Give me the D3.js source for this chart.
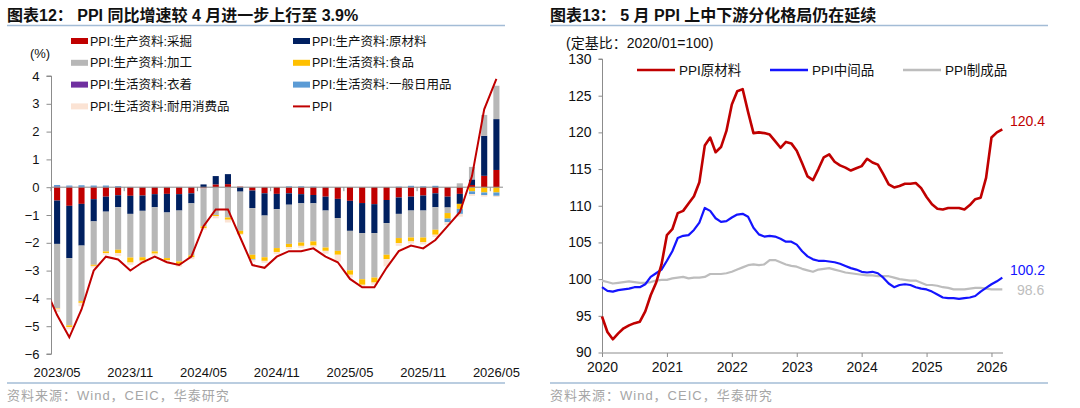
<!DOCTYPE html>
<html><head><meta charset="utf-8">
<script src="https://cdn.jsdelivr.net/npm/d3@7/dist/d3.min.js"></script>
<style>
html,body{margin:0;padding:0;background:#fff;}
svg{display:block;font-family:"Liberation Sans","Noto Sans CJK SC",sans-serif;}
</style></head><body>
<svg id="c" width="1080" height="408"></svg>
<script>
// ---------- LEFT CHART DATA ----------
const months = ["2023/05","2023/06","2023/07","2023/08","2023/09","2023/10","2023/11","2023/12",
"2024/01","2024/02","2024/03","2024/04","2024/05","2024/06","2024/07","2024/08","2024/09","2024/10","2024/11","2024/12",
"2025/01","2025/02","2025/03","2025/04","2025/05","2025/06","2025/07","2025/08","2025/09","2025/10","2025/11","2025/12",
"2026/01","2026/02","2026/03","2026/04","2026/05"];
const leftTickLabels = ["2023/05","2023/11","2024/05","2024/11","2025/05","2025/11","2026/05"];
const leftYTicks = [4,3,2,1,0,-1,-2,-3,-4,-5,-6];
const mining = [-0.48,-0.67,-0.60,-0.43,-0.34,-0.29,-0.31,-0.30,-0.25,-0.24,-0.25,-0.22,-0.04,0.10,0.11,0.02,-0.12,-0.22,-0.24,-0.22,-0.25,-0.28,-0.34,-0.42,-0.49,-0.57,-0.61,-0.46,-0.37,-0.34,-0.30,-0.22,-0.34,-0.24,0.08,0.41,0.62];
const rawMat = [-1.56,-1.88,-1.50,-0.80,-0.54,-0.43,-0.65,-0.55,-0.47,-0.67,-0.59,-0.36,0.10,0.30,0.36,-0.16,-0.63,-0.80,-0.55,-0.41,-0.33,-0.30,-0.50,-0.69,-1.08,-1.08,-1.04,-0.83,-0.59,-0.50,-0.54,-0.50,-0.39,-0.36,0.20,1.44,1.83];
const processing = [-2.31,-2.42,-2.00,-1.56,-1.43,-1.53,-1.57,-1.67,-1.59,-1.64,-1.83,-1.87,-1.37,-1.00,-1.09,-1.41,-1.68,-1.50,-1.40,-1.41,-1.41,-1.37,-1.33,-1.18,-1.42,-1.66,-1.60,-1.14,-0.87,-0.97,-0.97,-0.81,-0.20,0.14,0.45,0.75,1.20];
const food = [-0.02,-0.06,-0.06,-0.04,-0.06,-0.12,-0.18,-0.12,-0.08,-0.08,-0.09,-0.07,-0.06,-0.04,-0.08,-0.11,-0.16,-0.13,-0.14,-0.12,-0.12,-0.15,-0.12,-0.14,-0.16,-0.20,-0.18,-0.16,-0.18,-0.14,-0.17,-0.18,-0.20,-0.18,-0.15,-0.19,-0.19];
const clothing = [0.03,0.02,0.01,0.01,0.01,0.01,0,0,0,0,0,0,0,0,0,0,0,0,0,0,0,0,0,0,0,0,0,0,0,0,0,0,0,0,0,0,0];
const dailyUse = [0.05,0.04,0.06,0.05,0.05,0.03,0.01,0.01,0.01,0.01,0.01,0.01,0,0,0,0,-0.02,0,0,0.03,0.03,0.02,0.01,0,0,0,0,0,0.02,0.05,0.03,0.05,-0.13,-0.18,-0.10,-0.10,-0.12];
const durables = [-0.12,-0.08,-0.12,-0.06,-0.06,-0.10,-0.08,-0.10,-0.07,-0.07,-0.10,-0.07,-0.06,-0.08,-0.10,-0.04,-0.07,-0.07,-0.08,-0.07,-0.07,-0.07,-0.10,-0.24,-0.10,-0.08,-0.08,-0.26,-0.10,-0.08,-0.08,-0.08,-0.10,-0.10,-0.06,-0.05,-0.04];
const ppiMonths = ["2023/04"].concat(months);
const ppi = [-3.6,-4.6,-5.4,-4.4,-3.0,-2.5,-2.6,-3.0,-2.7,-2.5,-2.7,-2.8,-2.5,-1.4,-0.8,-0.8,-1.8,-2.8,-2.9,-2.5,-2.3,-2.3,-2.2,-2.5,-2.7,-3.3,-3.6,-3.6,-2.9,-2.3,-2.1,-2.2,-1.9,-1.4,-0.9,0.4,2.8,3.9];
const barNames = ["PPI:生产资料:采掘","PPI:生产资料:原材料","PPI:生产资料:加工","PPI:生活资料:食品","PPI:生活资料:衣着","PPI:生活资料:一般日用品","PPI:生活资料:耐用消费品"];
const barColors = ["#c00000","#002060","#b7b7b7","#ffc000","#7030a0","#5b9bd5","#fbe3d4"];

// ---------- RIGHT CHART DATA (2020/03 .. 2026/05) ----------
const rightYears = ["2020","2021","2022","2023","2024","2025","2026"];
const rightYTicks = [90,95,100,105,110,115,120,125,130];
const rawIdx = [94.9,92.8,91.8,92.6,93.3,93.7,94.0,94.2,95.6,97.8,99.5,102.0,106.0,106.8,109.0,109.3,110.3,111.3,113.2,118.2,119.3,117.3,118.0,120.2,123.8,125.6,125.9,122.8,119.9,120.0,119.9,119.7,118.8,117.9,118.7,118.5,117.5,115.8,114.0,113.5,115.0,116.6,117.0,116.0,115.5,115.2,114.8,115.1,115.4,116.4,115.9,115.6,114.3,112.9,112.5,112.7,113.0,113.0,113.1,112.4,111.2,110.2,109.6,109.5,109.7,109.7,109.7,109.5,110.1,110.9,111.1,113.8,119.3,120.0,120.4];
const midIdx = [98.9,98.4,98.3,98.5,98.6,98.7,98.9,98.9,99.3,100.3,100.8,101.3,102.5,103.8,105.6,105.9,106.0,106.7,107.7,109.7,109.3,108.3,107.8,107.9,108.4,108.8,108.9,108.5,107.0,106.1,105.8,105.9,105.8,105.5,105.1,105.1,104.7,103.8,103.1,102.7,102.5,102.5,102.4,102.3,102.1,101.8,101.5,101.3,101.0,100.9,101.0,100.8,100.2,99.4,98.9,99.2,99.3,99.2,98.9,98.7,98.6,98.3,97.9,97.5,97.4,97.4,97.3,97.4,97.5,97.7,98.3,98.8,99.3,99.7,100.2];
const finIdx = [99.8,99.6,99.4,99.5,99.6,99.7,99.6,99.5,99.5,99.6,99.8,99.9,99.9,100.1,100.2,100.3,100.1,100.2,100.2,100.3,100.7,100.7,100.7,100.8,101.0,101.3,101.6,101.9,102.0,101.9,102.0,102.6,102.6,102.3,102.0,101.8,101.7,101.4,101.2,101.0,101.3,101.4,101.5,101.3,101.1,100.9,100.8,100.7,100.6,100.5,100.5,100.4,100.4,100.4,100.2,100.0,99.9,99.8,99.8,99.5,99.2,99.2,99.1,98.9,98.8,98.6,98.6,98.6,98.7,98.8,98.8,98.7,98.6,98.6,98.6];
const lineNames = ["PPI原材料","PPI中间品","PPI制成品"];
const lineColors = ["#c00000","#1414ff","#bdbdbd"];

const svg = d3.select("#c");
const axisColor = "#8c8c8c";
const sepColor = "#a3bcd6";

// ---------- shared frame ----------
function frame(x0, x1, title){
  svg.append("text").attr("x", x0).attr("y", 21).attr("font-size", 16).attr("font-weight", "bold").attr("fill","#111").text(title);
  svg.append("line").attr("x1", x0).attr("x2", x1).attr("y1", 25.5).attr("y2", 25.5).attr("stroke", sepColor).attr("stroke-width", 1.5);
  svg.append("line").attr("x1", x0).attr("x2", x1).attr("y1", 383).attr("y2", 383).attr("stroke", sepColor).attr("stroke-width", 1.5);
  svg.append("text").attr("x", x0).attr("y", 400).attr("font-size", 13).attr("letter-spacing", 1).attr("fill", "#a6a6a6").text("资料来源：Wind，CEIC，华泰研究");
}
frame(7, 505, "图表12：  PPI 同比增速较 4 月进一步上行至 3.9%");
frame(550, 1048, "图表13：  5 月 PPI 上中下游分化格局仍在延续");

// ---------- LEFT CHART ----------
const xb = d3.scaleBand().domain(months).range([51, 502.5]).paddingInner(0.5).paddingOuter(0.25);
const yl = d3.scaleLinear().domain([-6, 4]).range([354, 76]);
const bw = xb.bandwidth();
const rows = months.map((m, i) => ({m, s0: mining[i], s1: rawMat[i], s2: processing[i], s3: food[i], s4: clothing[i], s5: dailyUse[i], s6: durables[i]}));
const keys = ["s0","s1","s2","s3","s4","s5","s6"];
const stacked = d3.stack().keys(keys).offset(d3.stackOffsetDiverging)(rows);

const L = svg.append("g");
stacked.forEach((ser, k) => {
  L.append("g").attr("fill", barColors[k]).selectAll("rect").data(ser).join("rect")
    .attr("x", d => xb(d.data.m)).attr("width", bw)
    .attr("y", d => yl(Math.max(d[0], d[1]))).attr("height", d => Math.abs(yl(d[0]) - yl(d[1])));
});
// zero line
L.append("line").attr("x1", 51).attr("x2", 503).attr("y1", yl(0)).attr("y2", yl(0)).attr("stroke", axisColor).attr("stroke-width", 1);
// x ticks at band boundaries
leftTickLabels.forEach(lab => {
  const xe = xb(lab) - (xb.step() - bw) / 2;
  L.append("line").attr("x1", xe).attr("x2", xe).attr("y1", yl(0)).attr("y2", yl(0) + 4).attr("stroke", axisColor);
  L.append("text").attr("x", xb(lab) + bw / 2).attr("y", 377).attr("text-anchor", "middle").attr("font-size", 13).attr("fill", "#111").text(lab);
});
// y axis
const yAxisL = d3.axisLeft(yl).tickValues(leftYTicks).tickSize(5).tickFormat(d3.format("d"));
const gy = L.append("g").attr("transform", "translate(51.5,0)").call(yAxisL);
gy.select(".domain").attr("stroke", axisColor).attr("d", `M-5,${yl(4)}H0V${yl(-6)}H-5`);
gy.selectAll(".tick line").attr("stroke", axisColor);
gy.selectAll(".tick text").attr("font-size", 13).attr("fill", "#111").attr("x", -12).attr("font-family", "Liberation Sans, sans-serif");
L.append("text").attr("x", 40).attr("y", 58).attr("text-anchor", "middle").attr("font-size", 13).attr("fill", "#111").text("(%)");

// PPI line (clipped to plot area)
svg.append("clipPath").attr("id", "clipL").append("rect").attr("x", 51.5).attr("y", 60).attr("width", 455).attr("height", 300);
const xl = d3.scalePoint().domain(ppiMonths).range([xb(months[0]) + bw / 2 - xb.step(), xb(months[months.length - 1]) + bw / 2]);
L.append("path").attr("clip-path", "url(#clipL)").datum(ppi)
  .attr("d", d3.line().x((d, i) => xl(ppiMonths[i])).y(d => yl(d)))
  .attr("fill", "none").attr("stroke", "#c00000").attr("stroke-width", 2);

// left legend
const legItems = barNames.map((n, i) => ({name: n, color: barColors[i], type: "rect"})).concat([{name: "PPI", color: "#c00000", type: "line"}]);
legItems.forEach((it, i) => {
  const col = i % 2, row = Math.floor(i / 2);
  const lx = col === 0 ? 71 : 293, ly = 41 + row * 21.8;
  if (it.type === "rect") L.append("rect").attr("x", lx).attr("y", ly - 3).attr("width", 17).attr("height", 6).attr("fill", it.color);
  else L.append("line").attr("x1", lx).attr("x2", lx + 17).attr("y1", ly).attr("y2", ly).attr("stroke", it.color).attr("stroke-width", 2);
  L.append("text").attr("x", lx + 19).attr("y", ly + 4.5).attr("font-size", 12.5).attr("fill", "#111").text(it.name);
});

// ---------- RIGHT CHART ----------
const xr = d3.scaleLinear().domain([0, rawIdx.length - 1]).range([602, 1002.3]);
const yr = d3.scaleLinear().domain([90, 130]).range([352.5, 59]);
const R = svg.append("g");
const yAxisR = d3.axisLeft(yr).tickValues(rightYTicks).tickSize(4);
const gyr = R.append("g").attr("transform", "translate(602.5,0)").call(yAxisR);
gyr.select(".domain").attr("stroke", axisColor).attr("d", `M-4,${yr(130)}H0V${yr(90)}`);
gyr.selectAll(".tick line").attr("stroke", axisColor);
gyr.selectAll(".tick text").attr("font-size", 14).attr("fill", "#111").attr("x", -11).attr("font-family", "Liberation Sans, sans-serif");
const xAxisR = d3.axisBottom(xr).tickValues(d3.range(0, 73, 12)).tickSize(4).tickFormat((d, i) => rightYears[i]);
const gxr = R.append("g").attr("transform", `translate(0,${yr(90) + 0.5})`).call(xAxisR);
gxr.select(".domain").attr("stroke", axisColor).attr("d", `M602,0H1003`);
gxr.selectAll(".tick line").attr("stroke", axisColor);
gxr.selectAll(".tick text").attr("font-size", 14).attr("fill", "#111").attr("y", 9).attr("font-family", "Liberation Sans, sans-serif");
R.append("text").attr("x", 566).attr("y", 48).attr("font-size", 14).attr("fill", "#111").text("(定基比：2020/01=100)");

const series = [finIdx, midIdx, rawIdx];
const sColors = [lineColors[2], lineColors[1], lineColors[0]];
const sWidths = [2.2, 2.2, 2.6];
series.forEach((s, k) => {
  R.append("path").datum(s).attr("d", d3.line().x((d, i) => xr(i)).y(d => yr(d)))
    .attr("fill", "none").attr("stroke", sColors[k]).attr("stroke-width", sWidths[k]).attr("stroke-linejoin", "round");
});
// end labels
[[rawIdx, lineColors[0], 1010, 126], [midIdx, lineColors[1], 1010, 275], [finIdx, lineColors[2], 1017, 295]].forEach(([arr, c, x, y]) => {
  R.append("text").attr("x", x).attr("y", y).attr("font-size", 14).attr("fill", c).text(d3.format(".1f")(arr[arr.length - 1]));
});
// right legend
const rlx = [637, 770, 903];
lineNames.forEach((n, i) => {
  R.append("line").attr("x1", rlx[i]).attr("x2", rlx[i] + 38).attr("y1", 70).attr("y2", 70).attr("stroke", lineColors[i]).attr("stroke-width", 2.6);
  R.append("text").attr("x", rlx[i] + 42).attr("y", 75).attr("font-size", 13.5).attr("fill", "#111").text(n);
});
</script>
</body></html>
